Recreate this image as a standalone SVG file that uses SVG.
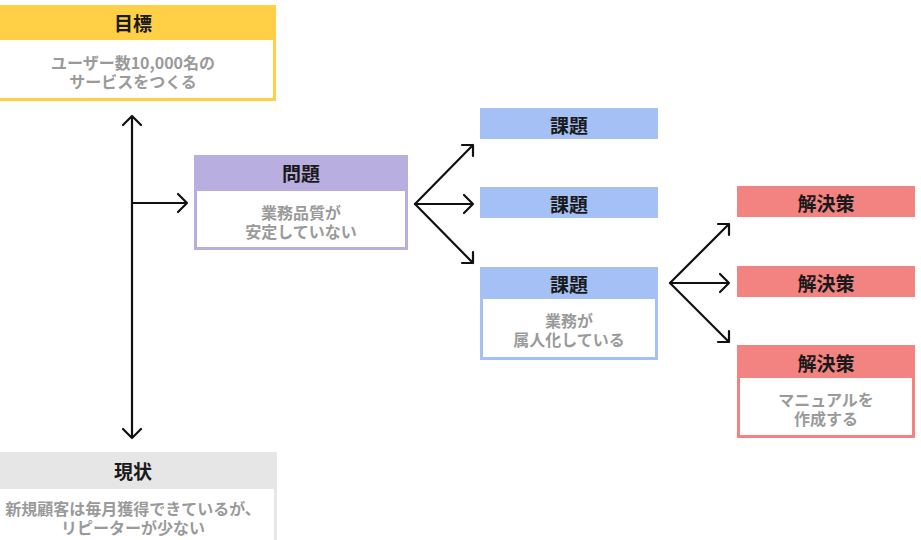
<svg xmlns="http://www.w3.org/2000/svg" width="921" height="540" viewBox="0 0 921 540">
<style>
.t{font-family:"Noto Sans CJK JP","Noto Sans",sans-serif;font-weight:bold;font-size:19px;fill:#1a1a1a;text-anchor:middle;dominant-baseline:central}
.b{font-family:"Noto Sans CJK JP","Noto Sans",sans-serif;font-weight:bold;font-size:16px;fill:#9a9a9a;text-anchor:middle;dominant-baseline:central}
.ln{fill:none;stroke:#111;stroke-width:2.2;stroke-linecap:round;stroke-linejoin:round}
.in{fill:#fff}
</style>
<rect width="921" height="540" fill="#fff"/>
<g id="goal">
<rect x="-10" y="5" width="286" height="96" fill="#FFD046"/>
<rect class="in" x="-7" y="40" width="280" height="58"/>
<text class="t" x="133" y="22">目標</text>
<text class="b"><tspan x="133" y="62">ユーザー数10,000名の</tspan><tspan x="133" y="81">サービスをつくる</tspan></text>
</g>
<g id="problem">
<rect x="194" y="155" width="214" height="95" fill="#B9AEE0"/>
<rect class="in" x="197" y="191" width="208" height="56"/>
<text class="t" x="301" y="172">問題</text>
<text class="b"><tspan x="301" y="212">業務品質が</tspan><tspan x="301" y="231">安定していない</tspan></text>
</g>
<g id="task1">
<rect x="480" y="108" width="178" height="31" fill="#A4C0F4"/>
<text class="t" x="569" y="124">課題</text>
</g>
<g id="task2">
<rect x="480" y="187" width="178" height="31" fill="#A4C0F4"/>
<text class="t" x="569" y="203">課題</text>
</g>
<g id="task3">
<rect x="480" y="267" width="178" height="93" fill="#A4C0F4"/>
<rect class="in" x="483" y="299" width="172" height="58"/>
<text class="t" x="569" y="283">課題</text>
<text class="b"><tspan x="569" y="320">業務が</tspan><tspan x="569" y="339">属人化している</tspan></text>
</g>
<g id="solution1">
<rect x="737" y="186" width="178" height="31" fill="#F28380"/>
<text class="t" x="826" y="202">解決策</text>
</g>
<g id="solution2">
<rect x="737" y="266" width="178" height="31" fill="#F28380"/>
<text class="t" x="826" y="282">解決策</text>
</g>
<g id="solution3">
<rect x="737" y="345" width="178" height="93" fill="#F28380"/>
<rect class="in" x="740" y="378" width="172" height="57"/>
<text class="t" x="826" y="362">解決策</text>
<text class="b"><tspan x="826" y="399">マニュアルを</tspan><tspan x="826" y="418">作成する</tspan></text>
</g>
<g id="current">
<rect x="-10" y="452" width="287" height="100" fill="#E6E6E6"/>
<rect class="in" x="-7" y="489" width="281" height="70"/>
<text class="t" x="133" y="470">現状</text>
<text class="b"><tspan x="133" y="508">新規顧客は毎月獲得できているが、</tspan><tspan x="133" y="527">リピーターが少ない</tspan></text>
</g>
<g id="connectors">
<path class="ln" d="M132 116V438M123 125L132 116L141 125M123 429L132 438L141 429"/>
<path class="ln" d="M132 203H187M178 194L187 203L178 212"/>
<path class="ln" d="M415 204L473 145M462 145H473V156"/>
<path class="ln" d="M415 204H473M464 195L473 204L464 213"/>
<path class="ln" d="M415 204L473 263M462 263H473V252"/>
<path class="ln" d="M670 283L729 224M718 224H729V235"/>
<path class="ln" d="M670 283H729M720 274L729 283L720 292"/>
<path class="ln" d="M670 283L729 342M718 342H729V331"/>
</g>
</svg>
